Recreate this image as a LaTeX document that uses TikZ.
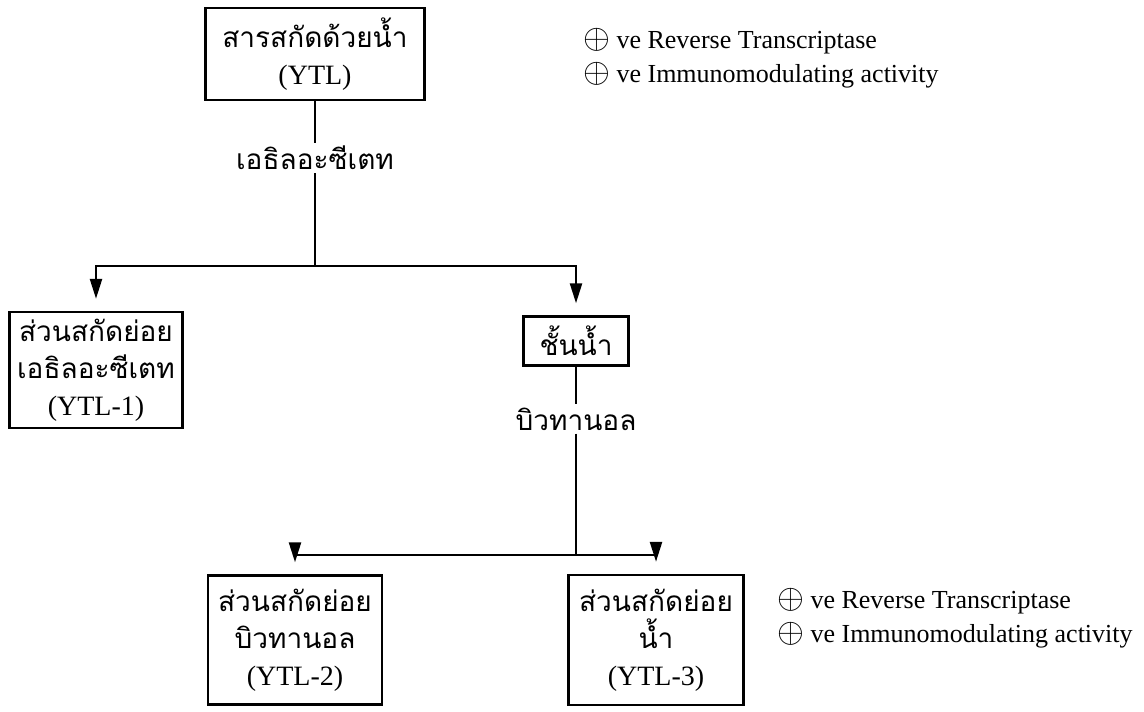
\documentclass[tikz,border=0pt]{standalone}
\usepackage{fontspec}
\setmainfont{Liberation Serif}
\newfontfamily\thaifont[Script=Thai]{Loma}
\usetikzlibrary{arrows.meta}
\newcommand{\posmark}{{\fontsize{18}{17}\selectfont$\oplus$}}

\begin{document}
\begin{tikzpicture}
  [x=0.5pt,y=-0.5pt,line width=1.2pt,
   every node/.style={font=\fontsize{14}{18.5}\selectfont,align=center},
   box/.style={draw,inner sep=0pt},
   step label/.style={inner sep=1pt},
   note/.style={anchor=west,align=left,inner sep=0pt,font=\fontsize{13}{17}\selectfont},
   arr/.style={-{Triangle[length=10pt,width=6pt]},shorten >=6pt}]
  \useasboundingbox (0,0) rectangle (1144,711);
  \node[box,minimum width=109.5pt,minimum height=46pt] (ytl) at (315,54) {{\thaifont สารสกัดด้วยน้ำ}\\(YTL)};
  \node[step label] (eac) at (315,158) {\thaifont เอธิลอะซีเตท};
  \coordinate (j1) at (315,266);
  \node[box,minimum width=86.5pt,minimum height=58pt] (ytl1) at (96,370) {{\thaifont ส่วนสกัดย่อย}\\{\thaifont เอธิลอะซีเตท}\\(YTL-1)};
  \node[box,minimum width=52.5pt,minimum height=24.5pt] (water) at (576,341) {\thaifont ชั้นน้ำ};
  \node[step label] (but) at (576,419) {\thaifont บิวทานอล};
  \coordinate (j2) at (576,555);
  \node[box,minimum width=87pt,minimum height=64.5pt] (ytl2) at (295,640) {{\thaifont ส่วนสกัดย่อย}\\{\thaifont บิวทานอล}\\(YTL-2)};
  \node[box,minimum width=87.5pt,minimum height=65pt] (ytl3) at (656,640) {{\thaifont ส่วนสกัดย่อย}\\{\thaifont น้ำ}\\(YTL-3)};
  \node[note] (act1) at (582,58) {\posmark{} ve Reverse Transcriptase\\\posmark{} ve Immunomodulating activity};
  \node[note] (act3) at (776,618) {\posmark{} ve Reverse Transcriptase\\\posmark{} ve Immunomodulating activity};

  \foreach \from/\to in {ytl/eac,eac/j1,water/but,but/j2}
    \draw (\from) -- (\to);
  \foreach \from/\to in {j1/ytl1,j1/water,j2/ytl2,j2/ytl3}
    \draw[arr] (\from) -| (\to);

\end{tikzpicture}
\end{document}
